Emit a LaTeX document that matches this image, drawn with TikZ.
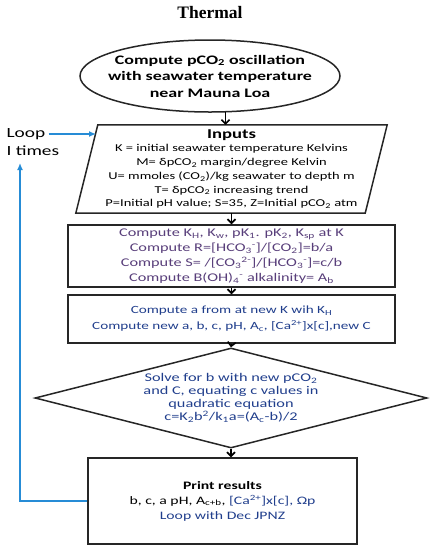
\documentclass[tikz,border=0pt]{standalone}
\usepackage{fontspec}
\setmainfont{Carlito}[FakeStretch=1.38]
\newfontfamily\titlefont{Liberation Serif}
\usepackage{tikz}
\usetikzlibrary{arrows.meta,calc,positioning,shapes.geometric}
\definecolor{calcpurple}{RGB}{88,62,122}
\definecolor{solveblue}{RGB}{32,62,140}
\definecolor{loopblue}{RGB}{38,140,214}
\tikzset{
  flowbox/.style={draw=black!85,line width=1.5pt,inner sep=0pt},
  flowarrow/.style={-{Straight Barb[length=4pt,width=8pt,line width=1.6pt]},line width=1.6pt},
  looparrow/.style={draw=loopblue,line width=1.6pt,-{Latex[length=7pt,width=6pt]}},
}

\begin{document}
\begin{tikzpicture}[x=1pt,y=-1pt]
  \useasboundingbox (0,0) rectangle (431,550);
  \node[font=\titlefont\bfseries\fontsize{17.5}{20}\selectfont] (title) at (210,13) {Thermal};
  % start ellipse
  \node[flowbox,ellipse,minimum width=260,minimum height=72] (start) at (210,76) {};
  \node[align=center,font=\bfseries\fontsize{13}{16.5}\selectfont] (starttext) at (start.center)
  {Compute pCO\textsubscript{2} oscillation\\with seawater temperature\\near Mauna Loa};
  % inputs (parallelogram)
  \node[minimum width=311,minimum height=88,inner sep=0pt] (inputs) at (231.5,169) {};
  \draw[flowbox] ($(inputs.north west)+(22,0)$) -- (inputs.north east)
    -- ($(inputs.south east)+(-22,0)$) -- (inputs.south west) -- cycle;
  \node[align=center,font=\fontsize{10.5}{13.7}\selectfont] (inputstext) at (inputs.center)
  {{\bfseries\fontsize{13.5}{16}\selectfont Inputs}\\
  K = initial seawater temperature Kelvins\\
  M= δpCO\textsubscript{2} margin/degree Kelvin\\
  U= mmoles (CO\textsubscript{2})/kg seawater to depth m\\
  T= δpCO\textsubscript{2} increasing trend\\
  P=Initial pH value; S=35, Z=Initial pCO\textsubscript{2} atm};
  % constants
  \node[flowbox,rectangle,minimum width=327,minimum height=62] (calc) at (231.5,256) {};
  \node[align=center,text=calcpurple,font=\fontsize{11.8}{15}\selectfont] (calctext) at (calc.center)
  {Compute K\textsubscript{H}, K\textsubscript{w}, pK\textsubscript{1}. pK\textsubscript{2}, K\textsubscript{sp} at K\\
  Compute R=[HCO\textsubscript{3}\textsuperscript{-}]/[CO\textsubscript{2}]=b/a\\
  Compute S= /[CO\textsubscript{3}\textsuperscript{2-}]/[HCO\textsubscript{3}\textsuperscript{-}]=c/b\\
  Compute B(OH)\textsubscript{4}\textsuperscript{-} alkalinity= A\textsubscript{b}};
  % new values
  \node[flowbox,rectangle,minimum width=327,minimum height=48] (newc) at (231.5,319) {};
  \node[align=center,text=solveblue,font=\fontsize{11}{16}\selectfont] (newctext) at (newc.center)
  {Compute a from at new K wih K\textsubscript{H}\\
  Compute new a, b, c, pH, A\textsubscript{c}, [Ca\textsuperscript{2+}]x[c],new C};
  % decision
  \node[flowbox,diamond,minimum width=392,minimum height=100] (solve) at (231,398) {};
  \node[align=center,text=solveblue,font=\fontsize{11.8}{13.2}\selectfont] (solvetext) at (solve.center)
  {Solve for b with new pCO\textsubscript{2}\\
  and C, equating c values in\\
  quadratic equation\\
  c=K\textsubscript{2}b\textsuperscript{2}/k\textsubscript{1}a=(A\textsubscript{c}-b)/2};
  % output
  \node[flowbox,rectangle,minimum width=269,minimum height=86] (print) at (222.5,501) {};
  \node[align=center,font=\fontsize{11.4}{15}\selectfont] (printtext) at (print.center)
  {{\bfseries Print results}\\
  b, c, a pH, A\textsubscript{c+b}, \textcolor{solveblue}{[Ca\textsuperscript{2+}]x[c], Ωp}\\
  \textcolor{solveblue}{Loop with Dec JPNZ}};
  % loop
  \node[anchor=west,font=\fontsize{14}{15}\selectfont] (loopA) at (3,134) {Loop};
  \node[anchor=west,font=\fontsize{14}{15}\selectfont] (loopB) at (3,151) {I times};
  \coordinate (entry) at (96,134);
  \coordinate (loopup) at (20,163);

  \draw[flowarrow] (start.-67) -- (start.-67 |- inputs.north);
  \draw[flowarrow] (inputs.south) -- (calc.north);
  \draw[flowarrow] (calc.south) -- (newc.north);
  \draw[flowarrow] (newc.south) -- (solve.north);
  \draw[flowarrow] (solve.south) -- (solve.south |- print.north);
  \draw[looparrow] (loopA.east) -- (entry);
  \draw[looparrow] (print.west) -| (loopup);
\end{tikzpicture}
\end{document}
